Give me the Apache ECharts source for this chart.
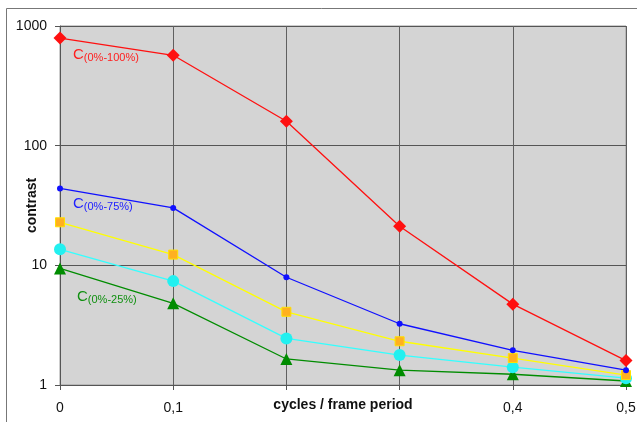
<!DOCTYPE html>
<html><head><meta charset="utf-8">
<script src="https://cdn.jsdelivr.net/npm/echarts@6/dist/echarts.min.js"></script>
<style>html,body{margin:0;padding:0;background:#fff}#c{width:637px;height:422px}</style>
</head><body><div id="c"></div>
<script>
const xValues = [0, 0.1, 0.2, 0.3, 0.4, 0.5];
const hiddenXLabels = [0.2, 0.3];
const yTicks = [1, 10, 100, 1000];
const c100 = [792, 569, 160, 21.2, 4.74, 1.6];
const c75 = [43.9, 30.2, 7.95, 3.25, 1.95, 1.33];
const cYellow = [22.9, 12.3, 4.09, 2.32, 1.68, 1.21];
const cCyan = [13.6, 7.38, 2.45, 1.78, 1.41, 1.14];
const c25 = [9.42, 4.81, 1.65, 1.33, 1.23, 1.08];
const xName = 'cycles / frame period';
const yName = 'contrast';

const pairs = arr => xValues.map((x, i) => [x, arr[i]]);
const font = '"Liberation Sans", Arial, sans-serif';

function lineSeries(name, data, color, symbol, size, itemStyle) {
  return {
    name, type: 'line', data: pairs(data), symbol, symbolSize: size,
    lineStyle: { color, width: 1.3 },
    itemStyle: Object.assign({ color, borderWidth: 0 }, itemStyle || {}),
    clip: false, z: 3, animation: false
  };
}

const chart = echarts.init(document.getElementById('c'), null, { renderer: 'canvas' });
chart.setOption({
  animation: false,
  backgroundColor: '#fff',
  grid: { left: 60, right: 11, top: 26, bottom: 37, containLabel: false, outerBoundsMode: 'none', show: true, backgroundColor: '#d4d4d4', borderColor: '#9a9a9a', borderWidth: 1 },
  xAxis: {
    type: 'value', min: 0, max: 0.5, interval: 0.1,
    name: xName, nameLocation: 'middle', nameGap: 13, nameMoveOverlap: false,
    nameTextStyle: { fontFamily: font, fontSize: 14, fontWeight: 'bold', color: '#111' },
    axisLine: { show: true, lineStyle: { color: '#555', width: 1 } },
    axisTick: { show: true, length: 5, lineStyle: { color: '#555' } },
    axisLabel: {
      fontFamily: font, fontSize: 14, color: '#111', margin: 16, hideOverlap: false,
      formatter: v => hiddenXLabels.some(h => Math.abs(h - v) < 1e-9) ? '' : String(Math.round(v * 10) / 10).replace('.', ',')
    },
    splitLine: { show: true, lineStyle: { color: '#606060', width: 1 } }
  },
  yAxis: {
    type: 'log', logBase: 10, min: yTicks[0], max: yTicks[yTicks.length - 1],
    name: yName, nameLocation: 'middle', nameGap: 21, nameRotate: 90, nameMoveOverlap: false,
    nameTextStyle: { fontFamily: font, fontSize: 14, fontWeight: 'bold', color: '#111' },
    axisLine: { show: true, lineStyle: { color: '#555', width: 1 } },
    axisTick: { show: true, length: 5, lineStyle: { color: '#555' } },
    axisLabel: { fontFamily: font, fontSize: 14, color: '#111', margin: 13, formatter: v => String(Math.round(v)) },
    splitLine: { show: true, lineStyle: { color: '#555', width: 1 } },
    minorTick: { show: false }
  },
  series: [
    lineSeries('C(0%-25%)', c25, '#008c00', 'triangle', 12),
    lineSeries('cyan', cCyan, '#33ffff', 'circle', 12, { color: '#22f0f0' }),
    lineSeries('yellow', cYellow, '#ffff00', 'rect', 9, { color: '#ffb020', borderColor: '#ffe000', borderWidth: 1 }),
    lineSeries('C(0%-75%)', c75, '#1010ff', 'circle', 6),
    lineSeries('C(0%-100%)', c100, '#ff1010', 'diamond', 13)
  ],
  graphic: [
    { type: 'line', shape: { x1: 6.5, y1: 8.5, x2: 637, y2: 8.5 }, style: { stroke: '#777', lineWidth: 1 }, silent: true },
    { type: 'line', shape: { x1: 6.5, y1: 8.5, x2: 6.5, y2: 422 }, style: { stroke: '#777', lineWidth: 1 }, silent: true },
    { type: 'text', left: 73, top: 47, z: 10, style: { text: '{c|C}{s|(0%-100%)}', rich: { c: { fontFamily: font, fontSize: 15, fill: '#ff2020' }, s: { fontFamily: font, fontSize: 11, fill: '#ff2020', padding: [7, 0, 0, 0] } } } },
    { type: 'text', left: 73, top: 196, z: 10, style: { text: '{c|C}{s|(0%-75%)}', rich: { c: { fontFamily: font, fontSize: 15, fill: '#2020ff' }, s: { fontFamily: font, fontSize: 11, fill: '#2020ff', padding: [7, 0, 0, 0] } } } },
    { type: 'text', left: 77, top: 289, z: 10, style: { text: '{c|C}{s|(0%-25%)}', rich: { c: { fontFamily: font, fontSize: 15, fill: '#109010' }, s: { fontFamily: font, fontSize: 11, fill: '#109010', padding: [7, 0, 0, 0] } } } }
  ]
});
</script></body></html>
